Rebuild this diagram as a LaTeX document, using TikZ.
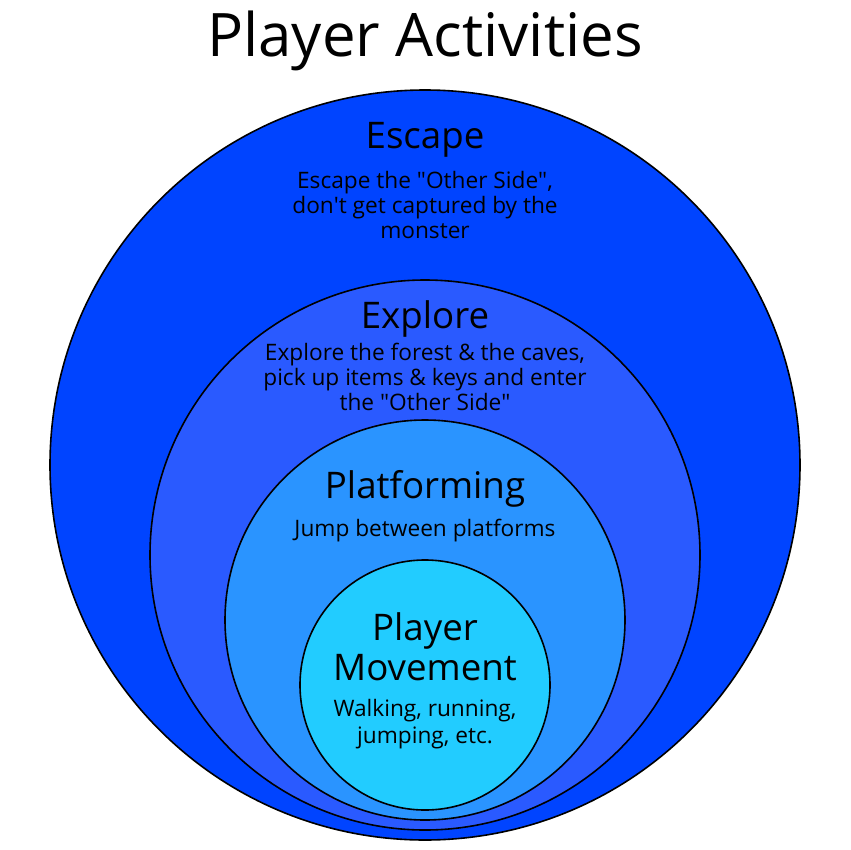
\documentclass[tikz,border=0pt]{standalone}
\usepackage{fontspec}
\setmainfont{Open Sans}
\usepackage{tikz}
\usetikzlibrary{positioning}
\definecolor{EscBlue}{HTML}{0044FF}
\definecolor{ExpBlue}{HTML}{2A5AFF}
\definecolor{PlatBlue}{HTML}{2A94FF}
\definecolor{MoveBlue}{HTML}{22CCFF}

\begin{document}
\begin{tikzpicture}[x=0.75pt,y=-0.75pt]
  \tikzstyle{ring}=[circle,draw=black,line width=1.2pt,inner sep=0pt]
  \tikzstyle{head}=[font=\fontsize{27.5}{30}\selectfont,align=center]
  \tikzstyle{body}=[font=\fontsize{17}{18.5}\selectfont,align=center]
  \useasboundingbox (0,0) rectangle (850,850);
  \node[font=\fontsize{45}{50}\selectfont] (title) at (425,41) {Player Activities};
  \node[ring,fill=EscBlue,minimum size=750*0.75pt] (escape) at (425,465) {};
  \node[ring,fill=ExpBlue,minimum size=550*0.75pt] (explore) at (425,555) {};
  \node[ring,fill=PlatBlue,minimum size=400*0.75pt] (platform) at (425,620) {};
  \node[ring,fill=MoveBlue,minimum size=250*0.75pt] (move) at (425,685) {};
  \node[head] (esch) at (425,140) {Escape};
  \node[body] (escb) at (425,205) {Escape the \textquotedbl Other Side\textquotedbl,\\don\textquotesingle t get captured by the\\monster};
  \node[head] (exph) at (425,319) {Explore};
  \node[body] (expb) at (425,377) {Explore the forest \& the caves,\\pick up items \& keys and enter\\the \textquotedbl Other Side\textquotedbl};
  \node[head] (plath) at (425,489) {Platforming};
  \node[body] (platb) at (425,531) {Jump between platforms};
  \node[head] (moveh) at (425,647) {Player\\Movement};
  \node[body,font=\fontsize{17}{20}\selectfont] (moveb) at (425,724) {Walking, running,\\jumping, etc.};
\end{tikzpicture}
\end{document}
